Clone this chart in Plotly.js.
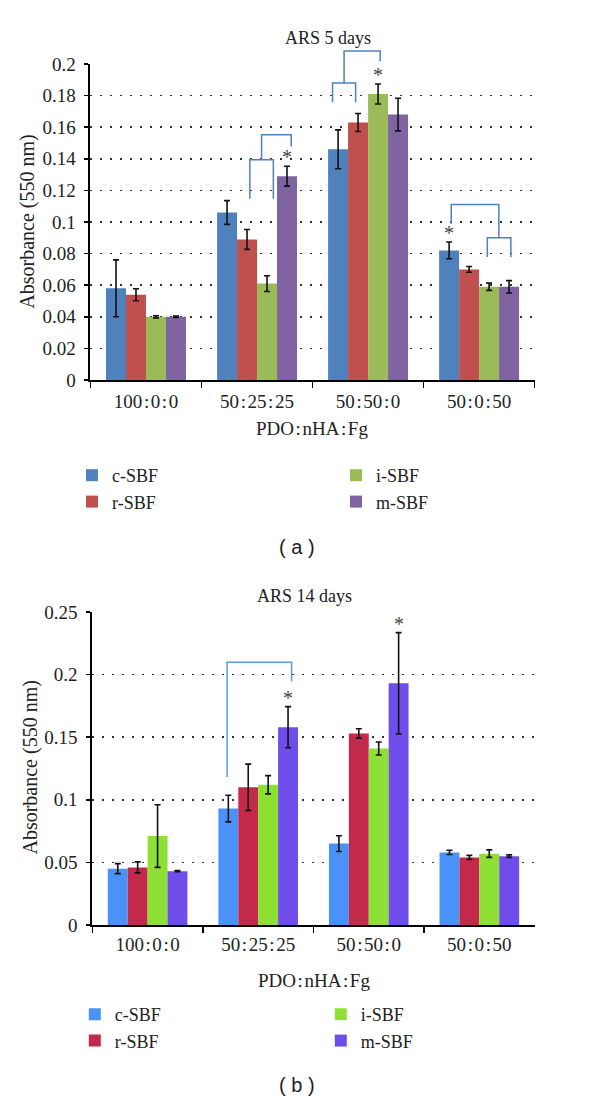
<!DOCTYPE html>
<html><head><meta charset="utf-8">
<script src="https://cdn.plot.ly/plotly-3.0.1.min.js"></script>
<style>html,body{margin:0;padding:0;background:#fff}</style>
</head><body><div id="chart" style="width:600px;height:1100px"></div>
<script>
const T = '\u200A';
const categories = ['100'+T+':'+T+'0'+T+':'+T+'0', '50'+T+':'+T+'25'+T+':'+T+'25', '50'+T+':'+T+'50'+T+':'+T+'0', '50'+T+':'+T+'0'+T+':'+T+'50'];
const seriesNames = ['c-SBF', 'r-SBF', 'i-SBF', 'm-SBF'];

// ARS 5 days
const day5_c = [0.058, 0.106, 0.146, 0.082];
const day5_r = [0.054, 0.089, 0.163, 0.070];
const day5_i = [0.040, 0.061, 0.181, 0.059];
const day5_m = [0.040, 0.129, 0.168, 0.059];
const day5_c_err = [0.018, 0.0075, 0.0123, 0.0053];
const day5_r_err = [0.0038, 0.0063, 0.0057, 0.0018];
const day5_i_err = [0.0007, 0.005, 0.0063, 0.0023];
const day5_m_err = [0.0004, 0.0063, 0.0103, 0.0039];

// ARS 14 days
const day14_c = [0.045, 0.093, 0.065, 0.058];
const day14_r = [0.046, 0.110, 0.153, 0.054];
const day14_i = [0.071, 0.112, 0.141, 0.057];
const day14_m = [0.043, 0.158, 0.193, 0.055];
const day14_c_err = [0.004, 0.0106, 0.0063, 0.0017];
const day14_r_err = [0.0044, 0.0185, 0.0037, 0.0016];
const day14_i_err = [0.025, 0.0073, 0.0052, 0.003];
const day14_m_err = [0.0005, 0.0164, 0.0405, 0.001];

// significance stars: [category index, series index]
const day5_stars = [[1, 3], [2, 2], [3, 0]];
const day14_stars = [[1, 3], [2, 3]];

// comparison brackets (category units, absorbance)
const day5_brackets = [
  [[0.935, 0.1147], [0.935, 0.1394], [1.147, 0.1394], [1.147, 0.1147]],
  [[1.041, 0.1394], [1.041, 0.1552], [1.308, 0.1552], [1.308, 0.1478]],
  [[1.68, 0.1758], [1.68, 0.188], [1.888, 0.188], [1.888, 0.1758]],
  [[1.784, 0.188], [1.784, 0.2082], [2.109, 0.2082], [2.109, 0.2019]],
  [[3.074, 0.0779], [3.074, 0.0901], [3.286, 0.0901], [3.286, 0.0779]],
  [[2.749, 0.0989], [2.749, 0.111], [3.178, 0.111], [3.178, 0.0901]]
];
const day14_brackets = [
  [[0.719, 0.1183], [0.719, 0.2098], [1.302, 0.2098], [1.302, 0.1947]]
];

const colors5 = ['#4F81BD', '#C0504D', '#9BBB59', '#8064A2'];
const colors14 = ['#4B92F8', '#C2294A', '#8EE034', '#6E4DEB'];
const ranks = [1, 3, 2, 4];
const SERIF = '"Liberation Serif", "DejaVu Serif", serif';

const d5 = [day5_c, day5_r, day5_i, day5_m];
const d5e = [day5_c_err, day5_r_err, day5_i_err, day5_m_err];
const d14 = [day14_c, day14_r, day14_i, day14_m];
const d14e = [day14_c_err, day14_r_err, day14_i_err, day14_m_err];

const traces = [];
function addSet(vals, errs, cols, xa, ya, leg) {
  vals.forEach((v, k) => {
    traces.push({
      type: 'bar', x: categories, y: v, name: seriesNames[k],
      xaxis: xa, yaxis: ya, legend: leg, legendrank: ranks[k],
      marker: {color: cols[k], line: {width: 0}},
      error_y: {type: 'data', array: errs[k], visible: true, color: '#111', thickness: 1.6, width: 3},
      hoverinfo: 'skip'
    });
  });
}
addSet(d5, d5e, colors5, 'x', 'y', 'legend');
addSet(d14, d14e, colors14, 'x2', 'y2', 'legend2');

const barW = 0.18, groupStart = -0.27;
const shapes = [];
function addBrackets(list, xa, ya, ymax, color) {
  list.forEach(pts => {
    const path = 'M' + pts.map(p => p[0] + ',' + (p[1] / ymax)).join('L');
    shapes.push({type: 'path', xref: xa, yref: ya + ' domain', path: path,
      line: {color: color, width: 1.5}, layer: 'above'});
  });
}
addBrackets(day5_brackets, 'x', 'y', 0.2, '#4F81BD');
addBrackets(day14_brackets, 'x2', 'y2', 0.25, '#5B9BE5');

const annotations = [];
function addStars(list, vals, errs, xa, ya) {
  list.forEach(([c, s]) => {
    annotations.push({xref: xa, yref: ya, x: c + groupStart + barW * s, y: vals[s][c] + errs[s][c],
      text: '*', showarrow: false, yanchor: 'bottom', yshift: -4,
      font: {family: SERIF, size: 20, color: '#444'}});
  });
}
addStars(day5_stars, d5, d5e, 'x', 'y');
addStars(day14_stars, d14, d14e, 'x2', 'y2');

function txt(text, x, y, opts) {
  annotations.push(Object.assign({xref: 'paper', yref: 'paper', x: x / 600, y: 1 - y / 1100,
    text: text, showarrow: false, xanchor: 'center', yanchor: 'middle',
    font: {family: SERIF, size: 18, color: '#222'}}, opts || {}));
}
const tFont = {family: SERIF, size: 20, color: '#222'};
txt('ARS 5 days', 355, 38);
txt('ARS 14 days', 330, 596);
txt('Absorbance (550 nm)', 30, 222, {textangle: -90, font: tFont});
txt('Absorbance (550 nm)', 32, 768, {textangle: -90, font: tFont});
txt('PDO' + T + ':' + T + 'nHA' + T + ':' + T + 'Fg', 338, 428, {font: {family: SERIF, size: 19, color: '#222'}});
txt('PDO' + T + ':' + T + 'nHA' + T + ':' + T + 'Fg', 340, 980, {font: {family: SERIF, size: 19, color: '#222'}});
txt('( a )', 322, 547, {font: {family: '"Liberation Sans", Arial, sans-serif', size: 20, color: '#222'}});
txt('( b )', 322, 1085, {font: {family: '"Liberation Sans", Arial, sans-serif', size: 20, color: '#222'}});

const xCommon = {type: 'category', showline: true, linecolor: '#000', linewidth: 1.5,
  ticks: 'outside', tickson: 'boundaries', ticklen: 6, tickwidth: 1.5, tickcolor: '#000',
  showgrid: false, zeroline: false, tickfont: {family: SERIF, size: 19, color: '#222'}, fixedrange: true};
const yCommon = {showline: true, linecolor: '#000', linewidth: 2, ticks: 'outside', ticklen: 4,
  tickwidth: 1.5, tickcolor: '#000', showgrid: true, gridcolor: '#333', gridwidth: 1.5,
  griddash: '1.5px,8.5px', zeroline: false, tickfont: {family: SERIF, size: 19, color: '#222'},
  ticklabelstandoff: 5, fixedrange: true};

const layout = {
  width: 600, height: 1100, margin: {l: 0, r: 0, t: 0, b: 0},
  paper_bgcolor: '#fff', plot_bgcolor: '#fff',
  barmode: 'group', bargap: 0.28, bargroupgap: 0,
  font: {family: SERIF, size: 18, color: '#222'},
  showlegend: true,
  xaxis: Object.assign({}, xCommon, {domain: [98 / 600, 579 / 600], anchor: 'y', ticklabelstandoff: 4}),
  yaxis: Object.assign({}, yCommon, {domain: [1 - 380 / 1100, 1 - 64 / 1100], anchor: 'x', range: [0, 0.2], tick0: 0, dtick: 0.02}),
  xaxis2: Object.assign({}, xCommon, {domain: [100 / 600, 579 / 600], anchor: 'y2', ticklabelstandoff: 2}),
  yaxis2: Object.assign({}, yCommon, {domain: [1 - 925 / 1100, 1 - 612 / 1100], anchor: 'x2', range: [0, 0.25], tick0: 0, dtick: 0.05}),
  legend: {orientation: 'h', x: 78 / 600, xanchor: 'left', y: 1 - 457 / 1100, yanchor: 'top',
    entrywidth: 219, entrywidthmode: 'pixels', traceorder: 'normal', bgcolor: 'rgba(0,0,0,0)',
    font: {family: SERIF, size: 18, color: '#222'}},
  legend2: {orientation: 'h', x: 81 / 600, xanchor: 'left', y: 1 - 996 / 1100, yanchor: 'top',
    entrywidth: 201, entrywidthmode: 'pixels', traceorder: 'normal', bgcolor: 'rgba(0,0,0,0)',
    font: {family: SERIF, size: 18, color: '#222'}},
  shapes: shapes,
  annotations: annotations
};

Plotly.newPlot('chart', traces, layout, {displayModeBar: false, staticPlot: true});
</script>
</body></html>
